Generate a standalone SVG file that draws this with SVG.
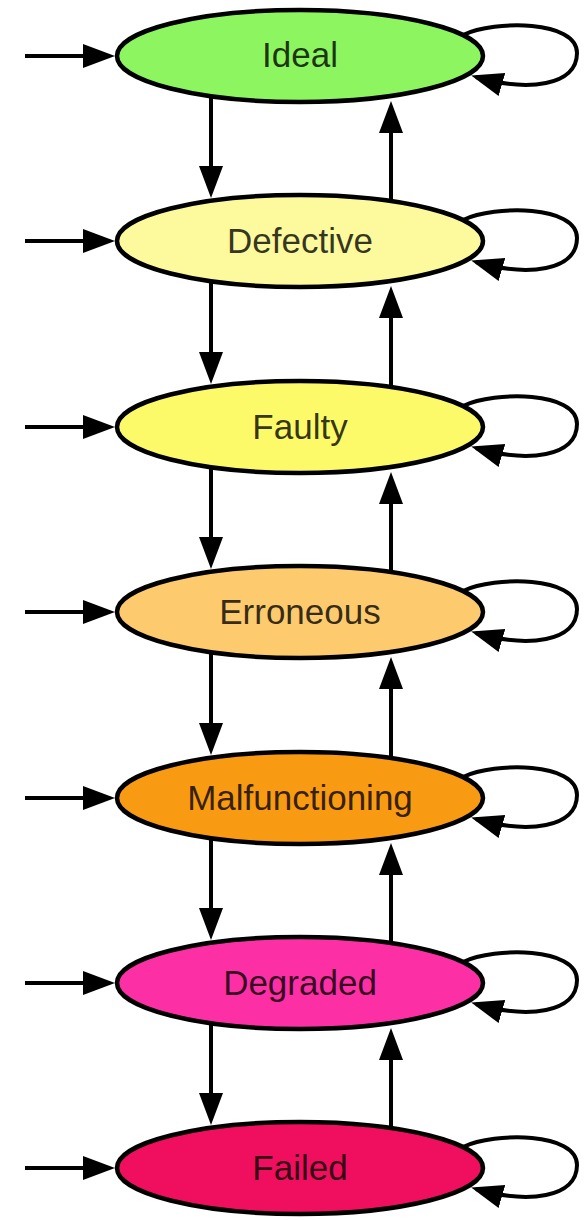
<svg xmlns="http://www.w3.org/2000/svg" width="585" height="1220" viewBox="0 0 585 1220">
<style>
.node ellipse{stroke:#000;stroke-width:4.5}
.node text{font-family:"Liberation Sans",Arial,sans-serif;font-size:35px;text-anchor:middle;fill:#000;fill-opacity:0.8}
.edge{fill:none;stroke:#000;stroke-width:4;marker-end:url(#ah)}
</style>
<defs>
<marker id="ah" markerUnits="userSpaceOnUse" markerWidth="34" markerHeight="26" refX="27" refY="12" orient="auto">
<path d="M0,0 L32,12 L0,24 z" fill="#000"/>
</marker>
</defs>
<rect width="585" height="1220" fill="#fff"/>
<g id="connectors">
<path class="edge" d="M25,56 L110,56"/>
<path class="edge" d="M25,241 L110,241"/>
<path class="edge" d="M25,427 L110,427"/>
<path class="edge" d="M25,612 L110,612"/>
<path class="edge" d="M25,798 L110,798"/>
<path class="edge" d="M25,983 L110,983"/>
<path class="edge" d="M25,1168 L110,1168"/>
<path class="edge" d="M211,96 L211,193"/>
<path class="edge" d="M211,281 L211,379"/>
<path class="edge" d="M211,467 L211,564"/>
<path class="edge" d="M211,652 L211,750"/>
<path class="edge" d="M211,838 L211,935"/>
<path class="edge" d="M211,1023 L211,1120"/>
<path class="edge" d="M391,201 L391,106"/>
<path class="edge" d="M391,387 L391,291"/>
<path class="edge" d="M391,572 L391,477"/>
<path class="edge" d="M391,758 L391,662"/>
<path class="edge" d="M391,943 L391,848"/>
<path class="edge" d="M391,1128 L391,1033"/>
<path class="edge" d="M463,35 C495,20 577,20 577,53 C577,86 528,92 476,77"/>
<path class="edge" d="M463,220 C495,205 577,205 577,238 C577,271 528,277 476,262"/>
<path class="edge" d="M463,406 C495,391 577,391 577,424 C577,457 528,463 476,448"/>
<path class="edge" d="M463,591 C495,576 577,576 577,609 C577,642 528,648 476,633"/>
<path class="edge" d="M463,777 C495,762 577,762 577,795 C577,828 528,834 476,819"/>
<path class="edge" d="M463,962 C495,947 577,947 577,980 C577,1013 528,1019 476,1004"/>
<path class="edge" d="M463,1147 C495,1132 577,1132 577,1165 C577,1198 528,1204 476,1189"/>
</g>
<g id="n-ideal" class="node"><ellipse cx="300" cy="56" rx="183" ry="46" fill="#8cf55f"/><text x="300" y="67">Ideal</text></g>
<g id="n-defective" class="node"><ellipse cx="300" cy="241" rx="183" ry="46" fill="#fcfa9c"/><text x="300" y="253">Defective</text></g>
<g id="n-faulty" class="node"><ellipse cx="300" cy="427" rx="183" ry="46" fill="#fdfa6a"/><text x="300" y="439">Faulty</text></g>
<g id="n-erroneous" class="node"><ellipse cx="300" cy="612" rx="183" ry="46" fill="#fdca6e"/><text x="300" y="624">Erroneous</text></g>
<g id="n-malfunctioning" class="node"><ellipse cx="300" cy="798" rx="183" ry="46" fill="#f99b12"/><text x="300" y="810">Malfunctioning</text></g>
<g id="n-degraded" class="node"><ellipse cx="300" cy="983" rx="183" ry="46" fill="#fc30a4"/><text x="300" y="995">Degraded</text></g>
<g id="n-failed" class="node"><ellipse cx="300" cy="1168" rx="183" ry="46" fill="#ef0f5e"/><text x="300" y="1180">Failed</text></g>
</svg>
